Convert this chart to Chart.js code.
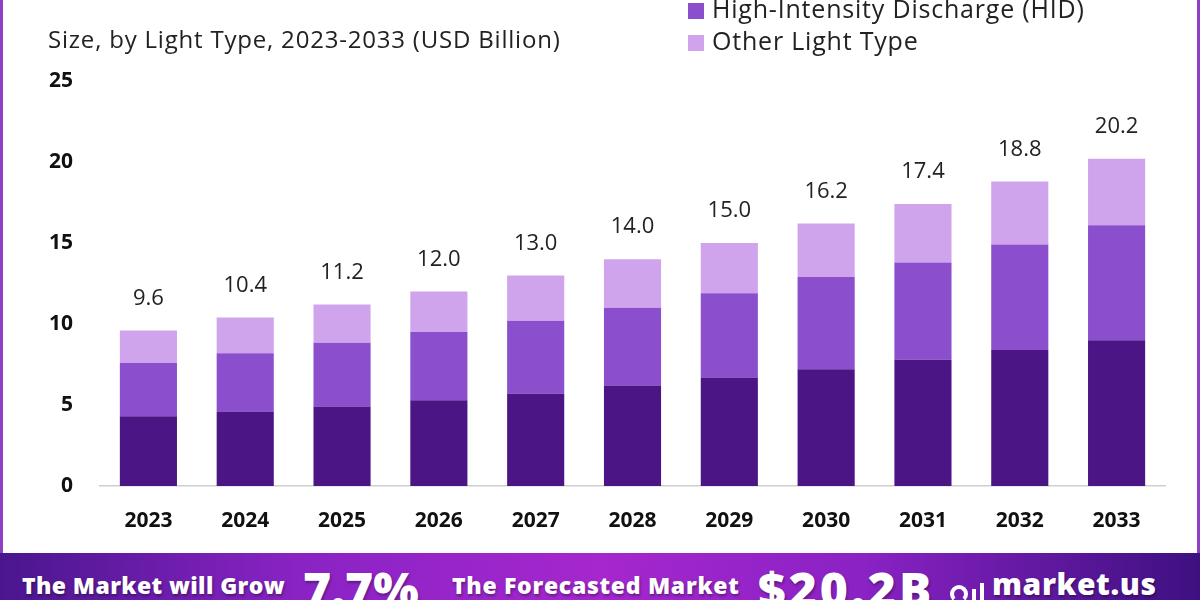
<!DOCTYPE html>
<html>
<head>
<meta charset="utf-8">
<script src="https://cdn.jsdelivr.net/npm/chart.js@4.4.1/dist/chart.umd.min.js"></script>
<style>
  html, body { margin: 0; padding: 0; }
  body { width: 1200px; height: 600px; overflow: hidden; background: #fff; font-family: "Open Sans", sans-serif; }
  #wrap { position: relative; width: 1200px; height: 600px; }
  #card { position: absolute; left: 0; top: 0; width: 1200px; height: 553px; background: #fff;
          box-sizing: border-box; border-left: 3px solid #8e3fc4; border-right: 3px solid #8e3fc4; }
  #chartBox { position: absolute; left: 0; top: 0; width: 1200px; height: 553px; }
  .sub { position: absolute; left: 48px; top: 22px; font-size: 24px; letter-spacing: 0.8px; color: #222; white-space: nowrap; }
  .leg { position: absolute; left: 688px; font-size: 25px; letter-spacing: 0.8px; color: #222; white-space: nowrap; line-height: 32px; }
  .leg i { display: inline-block; width: 16px; height: 16px; margin-right: 8px; vertical-align: -1px; }
  #banner { position: absolute; left: 0; top: 553px; width: 1200px; height: 47px; overflow: hidden;
            background: linear-gradient(90deg, #4a168e 0%, #8a23c4 25%, #a527ce 50%, #8a22c4 72%, #3d1080 100%); }
  #banner span { position: absolute; color: #fff; font-weight: 800; white-space: nowrap; text-shadow: 1px 2px 3px rgba(0,0,0,0.35); }
  .mid { font-size: 23px; top: 16px; }
  .big { font-size: 48px; top: 8px; line-height: 56px; }
  #logo { position: absolute; left: 950px; top: 583px; width: 36px; height: 22px; }
  #logo b { position: absolute; background: #fff; }
</style>
</head>
<body>
<div id="wrap">
  <div id="card"></div>
  <div id="chartBox"><canvas id="chart" width="1200" height="553"></canvas></div>
  <div class="sub">Size, by Light Type, 2023-2033 (USD Billion)</div>
  <div class="leg" style="top:-8px"><i style="background:#8b4fcd"></i>High-Intensity Discharge (HID)</div>
  <div class="leg" style="top:24px"><i style="background:#d0a4ec"></i>Other Light Type</div>
  <div id="banner">
    <span class="mid" style="left:22px; letter-spacing:0.4px">The Market will Grow</span>
    <span class="big" style="left:303px">7.7%</span>
    <span class="mid" style="left:452px; letter-spacing:0.7px">The Forecasted Market</span>
    <span class="big" style="left:758px; letter-spacing:3px">$20.2B</span>
    <span class="mid" style="left:992px; font-size:30px; top:10px; letter-spacing:0.6px">market.us</span>
  </div>
  <div id="logo">
    <b style="left:0; top:2px; width:18px; height:18px; border-radius:50%; background:transparent; border:4px solid #fff; box-sizing:border-box; border-bottom-color:transparent"></b>
    <b style="left:22px; top:6px; width:4px; height:16px"></b>
    <b style="left:30px; top:0; width:4px; height:22px"></b>
  </div>
</div>
<script>
const years = ["2023", "2024", "2025", "2026", "2027", "2028", "2029", "2030", "2031", "2032", "2033"];
const baseType = [4.3, 4.6, 4.9, 5.3, 5.7, 6.2, 6.7, 7.2, 7.8, 8.4, 9.0];
const hid = [3.3, 3.6, 3.95, 4.2, 4.5, 4.8, 5.2, 5.7, 6.0, 6.5, 7.1];
const otherType = [2.0, 2.2, 2.35, 2.5, 2.8, 3.0, 3.1, 3.3, 3.6, 3.9, 4.1];
const totals = [9.6, 10.4, 11.2, 12.0, 13.0, 14.0, 15.0, 16.2, 17.4, 18.8, 20.2];
const yTicks = [0, 5, 10, 15, 20, 25];

// totals above each stack
const totalLabels = {
  id: "totalLabels",
  afterDatasetsDraw(chart) {
    const ctx = chart.ctx;
    const top = chart.getDatasetMeta(chart.data.datasets.length - 1);
    ctx.save();
    ctx.font = "22px 'Open Sans'";
    ctx.fillStyle = "#222";
    ctx.textAlign = "center";
    ctx.textBaseline = "middle";
    top.data.forEach(function (bar, i) {
      ctx.fillText(totals[i].toFixed(1), bar.x, bar.y - 32);
    });
    ctx.restore();
  }
};

const ctx = document.getElementById("chart").getContext("2d");
new Chart(ctx, {
  type: "bar",
  data: {
    labels: years,
    datasets: [
      { label: "Light Type", data: baseType, backgroundColor: "#4c1585" },
      { label: "High-Intensity Discharge (HID)", data: hid, backgroundColor: "#8b4fcd" },
      { label: "Other Light Type", data: otherType, backgroundColor: "#d0a4ec" },
    ],
  },
  options: {
    responsive: false,
    animation: false,
    layout: { padding: { top: 81, right: 35, left: 0, bottom: 0 } },
    datasets: { bar: { categoryPercentage: 1, barPercentage: 0.59 } },
    plugins: { legend: { display: false }, tooltip: { enabled: false } },
    scales: {
      x: {
        stacked: true,
        grid: { display: false, drawTicks: false },
        border: { display: true, color: "#cfcfcf", width: 1.5 },
        ticks: { padding: 22, color: "#111", font: { family: "Open Sans", size: 21, weight: "bold" } },
        afterFit: function (scale) { scale.height = 67; },
      },
      y: {
        stacked: true,
        min: 0,
        max: 25,
        grid: { display: false, drawTicks: false },
        border: { display: false },
        afterBuildTicks: function (scale) { scale.ticks = yTicks.map(function (v) { return { value: v }; }); },
        ticks: { padding: 27, color: "#111", font: { family: "Open Sans", size: 21, weight: "bold" } },
        afterFit: function (scale) { scale.width = 100; },
      },
    },
  },
  plugins: [totalLabels],
});
</script>
</body>
</html>
